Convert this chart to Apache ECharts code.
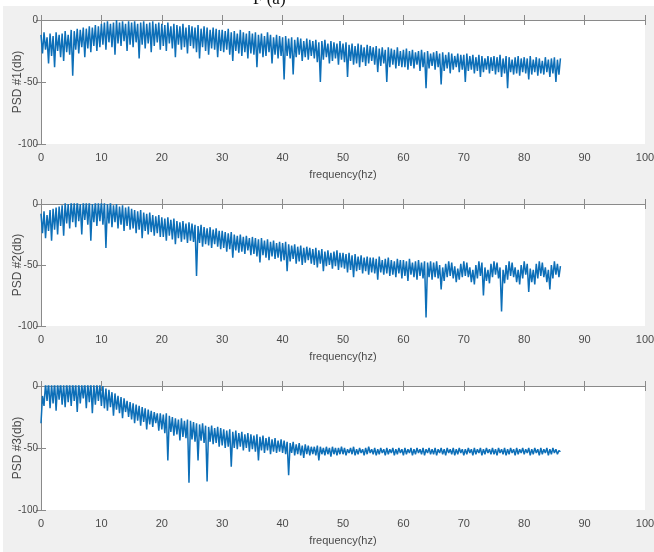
<!DOCTYPE html>
<html>
<head>
<meta charset="utf-8">
<script src="https://cdn.jsdelivr.net/npm/echarts@6/dist/echarts.min.js"></script>
<style>
html,body{margin:0;padding:0;background:#fff;}
#chart{width:654px;height:552px;}
</style>
</head>
<body>
<div id="chart"></div>
<script>
// Sampling step of the frequency grid (Hz)
const freqStep = 0.25;
const xTicks = [0, 10, 20, 30, 40, 50, 60, 70, 80, 90, 100];
const yTicks = [-100, -50, 0];
const yNames = ['PSD #1(db)', 'PSD #2(db)', 'PSD #3(db)'];
const xName = 'frequency(hz)';
const titleText = 'F (a)';

const psd1 = [
 -12,-27,-10,-24,-14,-35,-11,-29,-13,-38,-10,-25,-12,-30,-11,-33,-9,-26,-12,-28,
 -8,-45,-9,-24,-7,-27,-8,-22,-6,-30,-7,-23,-5,-26,-6,-21,-4,-25,-5,-22,
 -3,-20,-2,-24,-1,-18,-3,-22,-2,-28,0,-19,-2,-21,-1,-17,-3,-25,-1,-20,
 -2,-22,-1,-18,-3,-31,-2,-20,-1,-23,-3,-19,-2,-26,-1,-21,-3,-18,-2,-24,
 -3,-21,-4,-25,-2,-19,-5,-23,-3,-30,-4,-20,-5,-24,-3,-22,-6,-27,-4,-21,
 -5,-23,-6,-26,-4,-31,-7,-22,-5,-25,-6,-28,-8,-23,-6,-24,-7,-30,-8,-25,
 -8,-26,-9,-24,-7,-28,-10,-33,-9,-25,-11,-27,-8,-29,-10,-26,-11,-31,-9,-27,
 -11,-28,-10,-38,-12,-27,-11,-30,-13,-29,-10,-26,-12,-35,-14,-28,-12,-31,-13,-29,
 -14,-48,-13,-29,-15,-31,-14,-44,-16,-30,-14,-28,-15,-33,-17,-30,-15,-32,-16,-29,
 -17,-31,-16,-34,-18,-50,-17,-32,-16,-30,-19,-35,-17,-33,-18,-31,-19,-36,-17,-32,
 -19,-34,-18,-46,-20,-33,-19,-36,-21,-35,-19,-38,-20,-34,-22,-37,-20,-35,-21,-33,
 -22,-36,-21,-42,-23,-37,-22,-35,-24,-50,-22,-38,-23,-36,-24,-39,-22,-37,-25,-38,
 -24,-38,-23,-40,-25,-37,-24,-39,-26,-36,-25,-41,-24,-38,-26,-55,-25,-39,-27,-37,
 -26,-40,-25,-38,-27,-52,-26,-41,-28,-39,-26,-43,-27,-40,-29,-38,-27,-42,-28,-40,
 -28,-50,-27,-41,-29,-40,-28,-43,-30,-41,-28,-46,-29,-42,-31,-40,-29,-43,-30,-41,
 -29,-44,-30,-42,-28,-46,-31,-43,-29,-55,-30,-42,-32,-44,-30,-43,-29,-45,-31,-42,
 -30,-43,-31,-48,-29,-44,-32,-42,-30,-45,-31,-43,-33,-44,-30,-42,-32,-46,-31,-43,
 -30,-50,-32,-44,-31
];
const psd2 = [
 -8,-24,-6,-28,-9,-22,-5,-30,-4,-21,-3,-25,-2,-18,-1,-26,1,-16,0,-20,
 2,-15,1,-19,3,-14,0,-25,2,-13,1,-17,3,-30,0,-15,2,-18,1,-14,
 2,-17,1,-36,0,-16,2,-19,-1,-15,0,-20,-2,-17,-1,-22,-3,-18,-2,-21,
 -4,-20,-5,-24,-6,-21,-5,-28,-7,-22,-8,-25,-7,-23,-9,-26,-10,-24,-9,-27,
 -11,-27,-12,-30,-11,-26,-13,-29,-12,-33,-14,-28,-15,-31,-14,-29,-16,-32,-15,-30,
 -16,-31,-17,-59,-18,-32,-17,-35,-19,-33,-20,-34,-19,-36,-21,-33,-20,-35,-22,-37,
 -22,-36,-23,-39,-24,-37,-23,-44,-25,-38,-26,-40,-25,-39,-27,-41,-26,-38,-28,-42,
 -27,-41,-28,-43,-29,-48,-28,-42,-30,-44,-29,-46,-31,-43,-30,-45,-32,-44,-31,-47,
 -32,-46,-31,-55,-33,-47,-34,-45,-33,-49,-35,-47,-34,-50,-36,-48,-35,-46,-36,-49,
 -37,-50,-36,-52,-38,-49,-37,-55,-39,-51,-38,-50,-40,-53,-39,-51,-38,-54,-40,-52,
 -40,-53,-41,-56,-40,-54,-42,-60,-41,-55,-43,-54,-42,-57,-44,-55,-43,-58,-44,-56,
 -44,-57,-45,-62,-43,-56,-46,-58,-45,-57,-44,-59,-46,-58,-47,-60,-45,-57,-46,-61,
 -46,-59,-47,-63,-45,-58,-48,-60,-47,-62,-46,-59,-48,-61,-47,-93,-48,-60,-47,-62,
 -48,-60,-47,-61,-50,-70,-52,-63,-49,-60,-47,-59,-48,-61,-51,-64,-53,-62,-49,-60,
 -47,-59,-48,-60,-52,-64,-54,-66,-50,-61,-47,-59,-48,-75,-52,-63,-54,-65,-49,-60,
 -47,-58,-48,-61,-52,-88,-54,-65,-50,-62,-47,-59,-48,-60,-52,-64,-54,-66,-50,-61,
 -47,-58,-49,-72,-53,-64,-54,-66,-49,-61,-47,-59,-48,-60,-52,-64,-54,-70,-50,-61,
 -47,-58,-49,-60,-51
];
const psd3 = [
 -30,-8,-16,2,-12,3,-18,1,-14,3,-20,2,-11,3,-15,1,-17,3,-13,2,
 -16,3,-12,2,-21,3,-14,1,-10,3,-18,2,-13,3,-22,1,-15,2,-12,1,
 -16,0,-18,-2,-20,-3,-17,-5,-24,-6,-19,-8,-22,-9,-26,-10,-21,-12,-25,-13,
 -27,-14,-30,-15,-28,-16,-32,-17,-29,-18,-35,-19,-31,-20,-33,-21,-30,-22,-36,-22,
 -35,-23,-38,-22,-60,-24,-37,-25,-40,-26,-39,-27,-44,-26,-41,-28,-42,-27,-78,-28,
 -43,-29,-45,-30,-60,-31,-44,-30,-46,-32,-77,-33,-45,-32,-47,-34,-46,-33,-49,-34,
 -48,-35,-50,-36,-49,-35,-65,-37,-50,-36,-51,-38,-49,-37,-52,-39,-50,-38,-53,-39,
 -51,-40,-53,-39,-60,-41,-52,-40,-54,-42,-52,-41,-55,-43,-53,-42,-54,-44,-53,-43,
 -54,-44,-55,-45,-72,-46,-54,-45,-56,-47,-55,-46,-56,-48,-58,-47,-55,-48,-56,-49,
 -55,-49,-56,-48,-60,-49,-55,-50,-56,-49,-55,-50,-57,-49,-55,-50,-56,-50,-55,-49,
 -55,-50,-56,-51,-54,-50,-55,-49,-56,-51,-55,-50,-54,-51,-56,-50,-55,-49,-54,-51,
 -55,-50,-56,-51,-55,-50,-54,-51,-56,-50,-55,-51,-54,-50,-56,-51,-55,-50,-54,-51,
 -56,-50,-55,-51,-54,-50,-56,-51,-55,-50,-54,-51,-55,-50,-56,-51,-54,-50,-55,-51,
 -55,-50,-56,-51,-54,-50,-55,-51,-56,-50,-54,-51,-55,-50,-56,-51,-55,-50,-54,-51,
 -56,-51,-55,-50,-54,-51,-56,-50,-55,-51,-54,-50,-56,-51,-55,-50,-54,-51,-55,-50,
 -55,-51,-56,-50,-54,-51,-55,-50,-56,-51,-55,-50,-54,-51,-56,-50,-55,-51,-54,-50,
 -55,-51,-54,-50,-56,-51,-55,-50,-54,-51,-56,-50,-55,-51,-54,-50,-56,-51,-55,-50,
 -54,-51,-55,-52,-53
];
const seriesList = [psd1, psd2, psd3];

const grids = [
  {left: 41, top: 20, width: 604, height: 124},
  {left: 41, top: 204, width: 604, height: 122},
  {left: 41, top: 386, width: 604, height: 124}
];

const lineColor = '#0d6fb8';
const axisColor = '#8a8a8a';
const labelColor = '#4a4a4a';
const labelFont = "'Liberation Sans Narrow', 'Arial Narrow', 'Liberation Sans', sans-serif";

const xAxes = [], yAxes = [], series = [];
grids.forEach((g, k) => {
  xAxes.push({
    gridIndex: k, type: 'value', min: xTicks[0], max: xTicks[xTicks.length - 1], interval: 10,
    position: 'bottom',
    name: xName, nameLocation: 'middle', nameGap: 25, nameMoveOverlap: false,
    nameTextStyle: {color: labelColor, fontSize: 11, fontFamily: labelFont},
    axisLine: {show: true, lineStyle: {color: axisColor, width: 1}},
    axisTick: {show: true, inside: true, length: 5, lineStyle: {color: axisColor}},
    axisLabel: {show: true, color: labelColor, fontSize: 11, fontFamily: labelFont, margin: 8},
    splitLine: {show: false}
  });
  xAxes.push({
    gridIndex: k, type: 'value', min: xTicks[0], max: xTicks[xTicks.length - 1], interval: 10,
    position: 'top',
    axisLine: {show: true, lineStyle: {color: axisColor, width: 1}},
    axisTick: {show: true, inside: true, length: 5, lineStyle: {color: axisColor}},
    axisLabel: {show: false}, splitLine: {show: false}
  });
  yAxes.push({
    gridIndex: k, type: 'value', min: yTicks[0], max: yTicks[yTicks.length - 1], interval: 50,
    position: 'left',
    name: yNames[k], nameLocation: 'middle', nameGap: 17, nameRotate: 90, nameMoveOverlap: false,
    nameTextStyle: {color: labelColor, fontSize: 12, fontFamily: "'Liberation Sans', sans-serif"},
    axisLine: {show: true, lineStyle: {color: axisColor, width: 1}},
    axisTick: {show: true, inside: true, length: 5, lineStyle: {color: axisColor}},
    axisLabel: {show: true, color: labelColor, fontSize: 10, fontFamily: labelFont, margin: 3},
    splitLine: {show: false}
  });
  yAxes.push({
    gridIndex: k, type: 'value', min: yTicks[0], max: yTicks[yTicks.length - 1], interval: 50,
    position: 'right',
    axisLine: {show: true, lineStyle: {color: axisColor, width: 1}},
    axisTick: {show: true, inside: true, length: 5, lineStyle: {color: axisColor}},
    axisLabel: {show: false}, splitLine: {show: false}
  });
  const vals = seriesList[k];
  series.push({
    type: 'line', xAxisIndex: 2 * k, yAxisIndex: 2 * k,
    data: vals.map((v, i) => [i * freqStep, v]),
    showSymbol: false, symbol: 'none', clip: true,
    lineStyle: {color: lineColor, width: 1.5},
    animation: false
  });
});

const chart = echarts.init(document.getElementById('chart'), null, {renderer: 'canvas'});
chart.setOption({
  backgroundColor: '#ffffff',
  animation: false,
  title: {
    text: titleText, left: 248, top: -14,
    textStyle: {fontFamily: "'Liberation Serif', serif", fontSize: 17, fontWeight: 'normal', color: '#111'}
  },
  graphic: [{
    type: 'rect', z: -10, silent: true,
    shape: {x: 3, y: 6, width: 651, height: 546},
    style: {fill: '#f0f0f0'}
  }],
  grid: grids.map(g => Object.assign({show: true, backgroundColor: '#ffffff', borderWidth: 0, containLabel: false, outerBoundsMode: 'none'}, g)),
  xAxis: xAxes,
  yAxis: yAxes,
  series: series
});
</script>
</body>
</html>
